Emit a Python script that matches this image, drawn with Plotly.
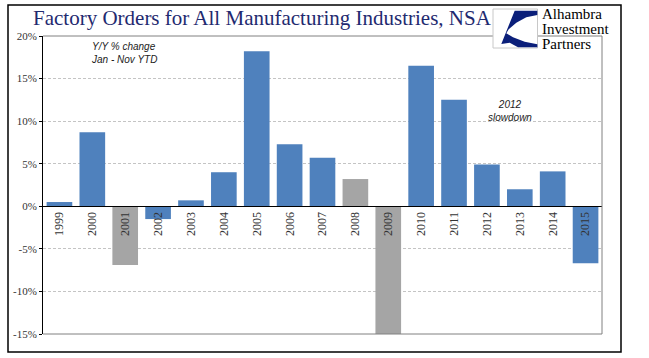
import plotly.graph_objects as go

years = ["1999", "2000", "2001", "2002", "2003", "2004", "2005", "2006", "2007",
         "2008", "2009", "2010", "2011", "2012", "2013", "2014", "2015"]
yoy_change = [0.5, 8.7, -6.9, -1.5, 0.7, 4.0, 18.2, 7.3, 5.7,
              3.2, -15.0, 16.5, 12.5, 4.9, 2.0, 4.1, -6.7]
recession_years = ["2001", "2008", "2009"]
y_ticks = [20, 15, 10, 5, 0, -5, -10, -15]
y_tick_labels = ["20%", "15%", "10%", "5%", "0%", "-5%", "-10%", "-15%"]
logo_lines = ["Alhambra", "Investment", "Partners"]

BLUE = "#4F81BD"
GRAY = "#A5A5A5"
colors = [GRAY if y in recession_years else BLUE for y in years]

W, H = 649, 358
L, R, T, B = 43, 602, 36, 334  # plot area in pixels


def px(x):
    return (x - L) / (R - L)


def py(y):
    return (B - y) / (B - T)


fig = go.Figure()
fig.add_trace(go.Bar(
    x=years, y=yoy_change, marker=dict(color=colors, line=dict(width=0)),
    width=0.78, showlegend=False, hoverinfo="x+y",
))

serif = "Liberation Serif"
fig.update_layout(
    width=W, height=H,
    margin=dict(l=L, r=W - R, t=T, b=H - B, pad=0),
    paper_bgcolor="white", plot_bgcolor="white",
    xaxis=dict(
        type="category", anchor="free", position=15 / 35,
        showline=True, linecolor="black", linewidth=1,
        showgrid=False, zeroline=False, ticks="",
        tickangle=-90, tickfont=dict(family=serif, size=12, color="#333333"),
        range=[-0.5, len(years) - 0.5],
    ),
    yaxis=dict(
        range=[-15, 20], tickvals=y_ticks, ticktext=y_tick_labels,
        showgrid=True, gridcolor="#C4C4C4", griddash="3px,2px", gridwidth=1,
        zeroline=False, showline=True, linecolor="black", linewidth=1,
        ticks="outside", ticklen=3, tickcolor="black",
        tickfont=dict(family=serif, size=11, color="#333333"),
    ),
)

shapes = []
# plot-area frame (top, right, bottom) in gray
for x0, x1, y0, y1 in [(0, 1, 1, 1), (1, 1, 0, 1), (0, 1, 0, 0)]:
    shapes.append(dict(type="line", xref="paper", yref="paper", x0=x0, x1=x1, y0=y0, y1=y1,
                       line=dict(color="#808080", width=1)))
# outer black frame of the image
shapes.append(dict(type="rect", xref="paper", yref="paper",
                   x0=px(8), x1=px(621), y0=py(352), y1=py(5),
                   line=dict(color="black", width=1.5), fillcolor="rgba(0,0,0,0)"))
# logo box
shapes.append(dict(type="rect", xref="paper", yref="paper",
                   x0=px(493), x1=px(537.5), y0=py(48), y1=py(9),
                   line=dict(color="#C8C8C8", width=1), fillcolor="white"))


def pth(points):
    return "M " + " L ".join(f"{px(a):.4f},{py(b):.4f}" for a, b in points) + " Z"


# navy swoosh of the logo
shapes.append(dict(type="path", xref="paper", yref="paper",
                   path=pth([(514.7, 10.7), (537.3, 10.7), (537.3, 15), (526.3, 17.3),
                             (516.3, 22.7), (508.7, 29.3), (506.3, 33.3), (513, 37.3),
                             (524.7, 41.7), (537.3, 44.3), (537.3, 47.3), (518, 47.3),
                             (509.7, 42.7), (501.3, 44)]),
                   line=dict(width=0), fillcolor="#0B1F7A"))
fig.update_layout(shapes=shapes)

ann = []
ann.append(dict(xref="paper", yref="paper", x=px(31), y=py(18), xanchor="left", yanchor="middle",
                text="Factory Orders for All Manufacturing Industries, NSA", showarrow=False,
                font=dict(family=serif, size=21, color="#1F2A70")))
for i, line in enumerate(logo_lines):
    ann.append(dict(xref="paper", yref="paper", x=px(540), y=py(14 + 15 * i),
                    xanchor="left", yanchor="middle", text=line, showarrow=False,
                    font=dict(family=serif, size=15, color="black")))
ann.append(dict(xref="paper", yref="paper", x=px(89), y=py(53), xanchor="left", yanchor="middle",
                text="<i>Y/Y % change<br>Jan - Nov YTD</i>", showarrow=False, align="left",
                font=dict(family="Liberation Sans", size=10, color="#222222")))
ann.append(dict(xref="paper", yref="paper", x=px(510), y=py(111), xanchor="center", yanchor="middle",
                text="<i>2012<br>slowdown</i>", showarrow=False, align="center",
                font=dict(family="Liberation Sans", size=10, color="#222222")))
fig.update_layout(annotations=ann)

fig.write_html("out.html", config={"displayModeBar": False},
               post_script="document.body.style.margin='0px';"
                           "document.body.style.padding='0px';")
